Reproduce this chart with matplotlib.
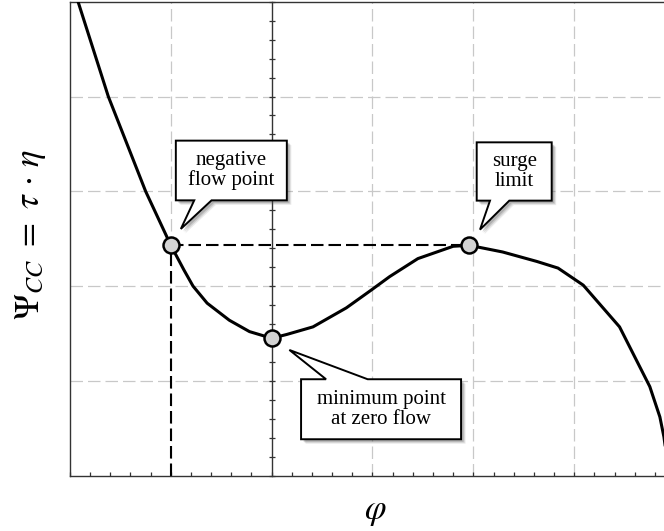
import matplotlib
matplotlib.use("Agg")
import matplotlib.pyplot as plt
from matplotlib.patches import Polygon
from matplotlib.transforms import IdentityTransform
from matplotlib.ticker import MultipleLocator

# ---- data ----
phi = [-1.97, -1.92, -1.62, -1.25, -1.0, -0.87, -0.78, -0.64, -0.42, -0.22, 0.0,
       0.15, 0.41, 0.74, 0.99, 1.17, 1.45, 1.80, 1.96, 2.29, 2.63, 2.84, 3.09,
       3.45, 3.75, 3.85, 3.89, 3.93]
psi = [5.17, 5.0, 4.0, 3.0, 2.43, 2.17, 2.0, 1.82, 1.64, 1.52, 1.45,
       1.49, 1.57, 1.77, 1.96, 2.10, 2.29, 2.42, 2.43, 2.36, 2.26, 2.19, 2.01,
       1.57, 0.94, 0.62, 0.41, 0.1]
pt_names = ["negative\nflow point", "minimum point\nat zero flow", "surge\nlimit"]
pt_x = [-1.0, 0.0, 1.96]
pt_y = [2.43, 1.45, 2.43]

plt.rcParams['mathtext.fontset'] = 'stix'
plt.rcParams['lines.scale_dashes'] = False

W, H = 664, 531
fig = plt.figure(figsize=(W / 100, H / 100), dpi=100)
# axes extends slightly past the right edge (cropped like the original)
ax = fig.add_axes([70 / W, (H - 475.7) / H, 605 / W, 474 / H])
ax.set_xlim(-2, 4)
ax.set_ylim(0, 5)

# grid
for gx in [-1, 1, 2, 3]:
    ax.axvline(gx, color='#c8c8c8', lw=0.9, ls=(0, (9, 3.6)), zorder=0)
for gy in [1, 2, 3, 4]:
    ax.axhline(gy, color='#c8c8c8', lw=0.9, ls=(0, (9, 3.6)), zorder=0)

for s in ['left', 'bottom', 'top', 'right']:
    ax.spines[s].set_color('#333333')
    ax.spines[s].set_linewidth(1.0)

ax.xaxis.set_major_locator(MultipleLocator(1))
ax.xaxis.set_minor_locator(MultipleLocator(0.2))
ax.tick_params(axis='x', which='both', direction='in', length=3, width=0.9,
               color='#333333', labelbottom=False, top=False)
ax.tick_params(axis='y', which='both', left=False, right=False, labelleft=False)

# central axis at phi = 0 with crossing ticks
sec = ax.secondary_yaxis(2 / 6)
sec.spines['left'].set_color('#333333')
sec.spines['left'].set_linewidth(1.0)
sec.yaxis.set_major_locator(MultipleLocator(0.2))
sec.tick_params(axis='y', direction='inout', length=5, width=0.9,
                color='#333333', labelleft=False)

# dashed guides
ax.plot([pt_x[0], pt_x[2]], [pt_y[0], pt_y[2]], color='black', lw=1.5,
        ls=(0, (9, 3.6)), zorder=2)
ax.plot([pt_x[0], pt_x[0]], [0, pt_y[0]], color='black', lw=1.5,
        ls=(0, (9, 3.6)), zorder=2)

# curve
ax.plot(phi, psi, color='black', lw=2.2, zorder=3, clip_on=True,
        solid_joinstyle='round')
ax.plot(pt_x, pt_y, 'o', ms=11.5, mfc='#d3d3d3', mec='black', mew=1.8, zorder=4)

# callouts (offsets in pixels from the marked point, image y downward)
shapes = {
    0: dict(box=(5, 116, -104.7, -45), base=(23.4, 40.7), tip=(10, -16.4), top=False),
    1: dict(box=(29.4, 189.4, 41, 101), base=(54.4, 96), tip=(17.7, 11.7), top=True),
    2: dict(box=(7.4, 82.4, -103, -44.7), base=(20.7, 40), tip=(10.7, -15.7), top=False),
}
for i, name in enumerate(pt_names):
    X, Y = ax.transData.transform((pt_x[i], pt_y[i]))
    s = shapes[i]
    l, r, t, b = s['box']
    b1, b2 = s['base']
    tx, ty = s['tip']
    if not s['top']:
        verts_img = [(l, t), (r, t), (r, b), (b2, b), (tx, ty), (b1, b), (l, b)]
    else:
        verts_img = [(l, t), (b1, t), (tx, ty), (b2, t), (r, t), (r, b), (l, b)]
    verts = [(X + dx, Y - dy) for dx, dy in verts_img]
    for k, (off, a) in enumerate([(4.5, 0.12), (3.5, 0.18), (2.5, 0.25)]):
        sh = Polygon([(vx + off, vy - off) for vx, vy in verts], closed=True,
                     transform=IdentityTransform(), fc='#555555', ec='none',
                     alpha=a, zorder=5)
        fig.add_artist(sh)
    poly = Polygon(verts, closed=True, transform=IdentityTransform(),
                   fc='white', ec='black', lw=1.4, zorder=6, joinstyle='miter')
    fig.add_artist(poly)
    cx = X + (l + r) / 2
    cy = Y - (t + b) / 2
    fig.text(cx / W, cy / H, name, ha='center', va='center', fontsize=15,
             family='Liberation Serif', linespacing=1.05, zorder=7)

fig.text(30 / W, (H - 234.5) / H, r'$\Psi_{CC}\ =\ \tau\,\cdot\,\eta$', rotation=90,
         ha='center', va='center', fontsize=25)
fig.text(375 / W, (H - 511) / H, r'$\varphi$', ha='center', va='center', fontsize=25)

fig.savefig('out.png', dpi=100)
